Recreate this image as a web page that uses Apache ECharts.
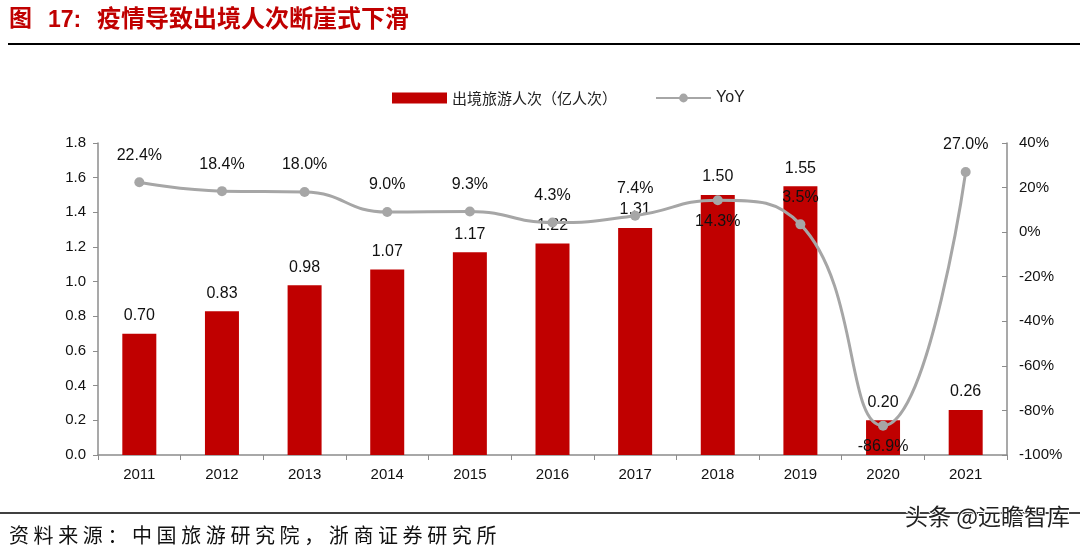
<!DOCTYPE html>
<html><head><meta charset="utf-8">
<script src="https://cdn.jsdelivr.net/npm/echarts@6/dist/echarts.min.js"></script>
<style>html,body{margin:0;padding:0;background:#fff}#c{width:1080px;height:553px}</style>
</head><body><div id="c"></div>
<script>
const years = ['2011','2012','2013','2014','2015','2016','2017','2018','2019','2020','2021'];
const trips = [0.70, 0.83, 0.98, 1.07, 1.17, 1.22, 1.31, 1.50, 1.55, 0.20, 0.26];
const yoy = [22.4, 18.4, 18.0, 9.0, 9.3, 4.3, 7.4, 14.3, 3.5, -86.9, 27.0];
const leftTicks = [0, 1.8, 0.2];
const rightTicks = [-100, 40, 20];
const yoyLabelBelow = ['2018', '2020'];
const sourceText = '资料来源：中国旅游研究院，浙商证券研究所';

const chart = echarts.init(document.getElementById('c'));
const font = 'Arial, "Liberation Sans", sans-serif';
const cjk = '"Noto Sans CJK SC", sans-serif';
const axisColor = '#8c8c8c';

const sourceChars = Array.from(sourceText).map((ch, i) => ({
  type: 'text', left: 9 + i * 24.6, top: 525,
  style: { text: ch, fill: '#111', font: '20px ' + cjk }
}));

chart.setOption({
  animation: false,
  textStyle: { fontFamily: font },
  graphic: [
    { type: 'text', left: 9, top: 6, style: { text: '图', fill: '#C00000', font: 'bold 23px ' + cjk } },
    { type: 'text', left: 48, top: 9, style: { text: '17:', fill: '#C00000', font: 'bold 23px ' + font } },
    { type: 'text', left: 97, top: 6, style: { text: '疫情导致出境人次断崖式下滑', fill: '#C00000', font: 'bold 24px ' + cjk } },
    { type: 'line', shape: { x1: 8, y1: 44, x2: 1080, y2: 44 }, style: { stroke: '#000', lineWidth: 2 } },
    { type: 'line', shape: { x1: 0, y1: 513, x2: 1080, y2: 513 }, style: { stroke: '#000', lineWidth: 1.5 } },
    ...sourceChars,
    { type: 'text', left: 904, top: 504, z: 10, style: { text: '头条 @远瞻智库', fill: '#222', font: '23px ' + cjk, stroke: '#fff', lineWidth: 2 } }
  ],
  legend: {
    left: 387, top: 85,
    itemWidth: 55, itemHeight: 11, itemGap: 38,
    textStyle: { fontSize: 15, color: '#222', fontFamily: cjk },
    data: [
      { name: '出境旅游人次（亿人次）', icon: 'rect' },
      { name: 'YoY', textStyle: { fontFamily: font, fontSize: 16 } }
    ]
  },
  grid: { left: 98, right: 73, top: 143, bottom: 98 },
  xAxis: {
    type: 'category', data: years, boundaryGap: true,
    axisLine: { lineStyle: { color: axisColor, width: 1.5 } },
    axisTick: { show: true, length: 5, lineStyle: { color: axisColor } },
    axisLabel: { color: '#111', fontSize: 15, margin: 12 }
  },
  yAxis: [
    {
      type: 'value', min: leftTicks[0], max: leftTicks[1], interval: leftTicks[2],
      axisLine: { show: true, lineStyle: { color: axisColor, width: 1.5 } },
      axisTick: { show: true, length: 5, lineStyle: { color: axisColor } },
      splitLine: { show: false },
      axisLabel: { color: '#111', fontSize: 15, margin: 12, formatter: v => v.toFixed(1) }
    },
    {
      type: 'value', min: rightTicks[0], max: rightTicks[1], interval: rightTicks[2],
      axisLine: { show: true, lineStyle: { color: axisColor, width: 1.5 } },
      axisTick: { show: true, inside: true, length: 5, lineStyle: { color: axisColor } },
      splitLine: { show: false },
      axisLabel: { color: '#111', fontSize: 15, margin: 12, formatter: v => v + '%' }
    }
  ],
  series: [
    {
      name: '出境旅游人次（亿人次）', type: 'bar', yAxisIndex: 0, barWidth: 34,
      itemStyle: { color: '#C00000' },
      label: { show: true, position: 'top', distance: 10, color: '#111', fontSize: 16, formatter: p => p.value.toFixed(2) },
      data: trips
    },
    {
      name: 'YoY', type: 'line', yAxisIndex: 1, smooth: true,
      symbol: 'circle', symbolSize: 10,
      lineStyle: { color: '#A6A6A6', width: 3 },
      itemStyle: { color: '#A6A6A6' },
      label: { show: true, position: 'top', distance: 14, color: '#111', fontSize: 16, formatter: p => p.value.toFixed(1) + '%' },
      data: yoy.map((v, i) => yoyLabelBelow.includes(years[i])
        ? { value: v, label: { position: 'bottom', distance: 8 } }
        : v),
      z: 5
    }
  ]
});
</script>
</body></html>
